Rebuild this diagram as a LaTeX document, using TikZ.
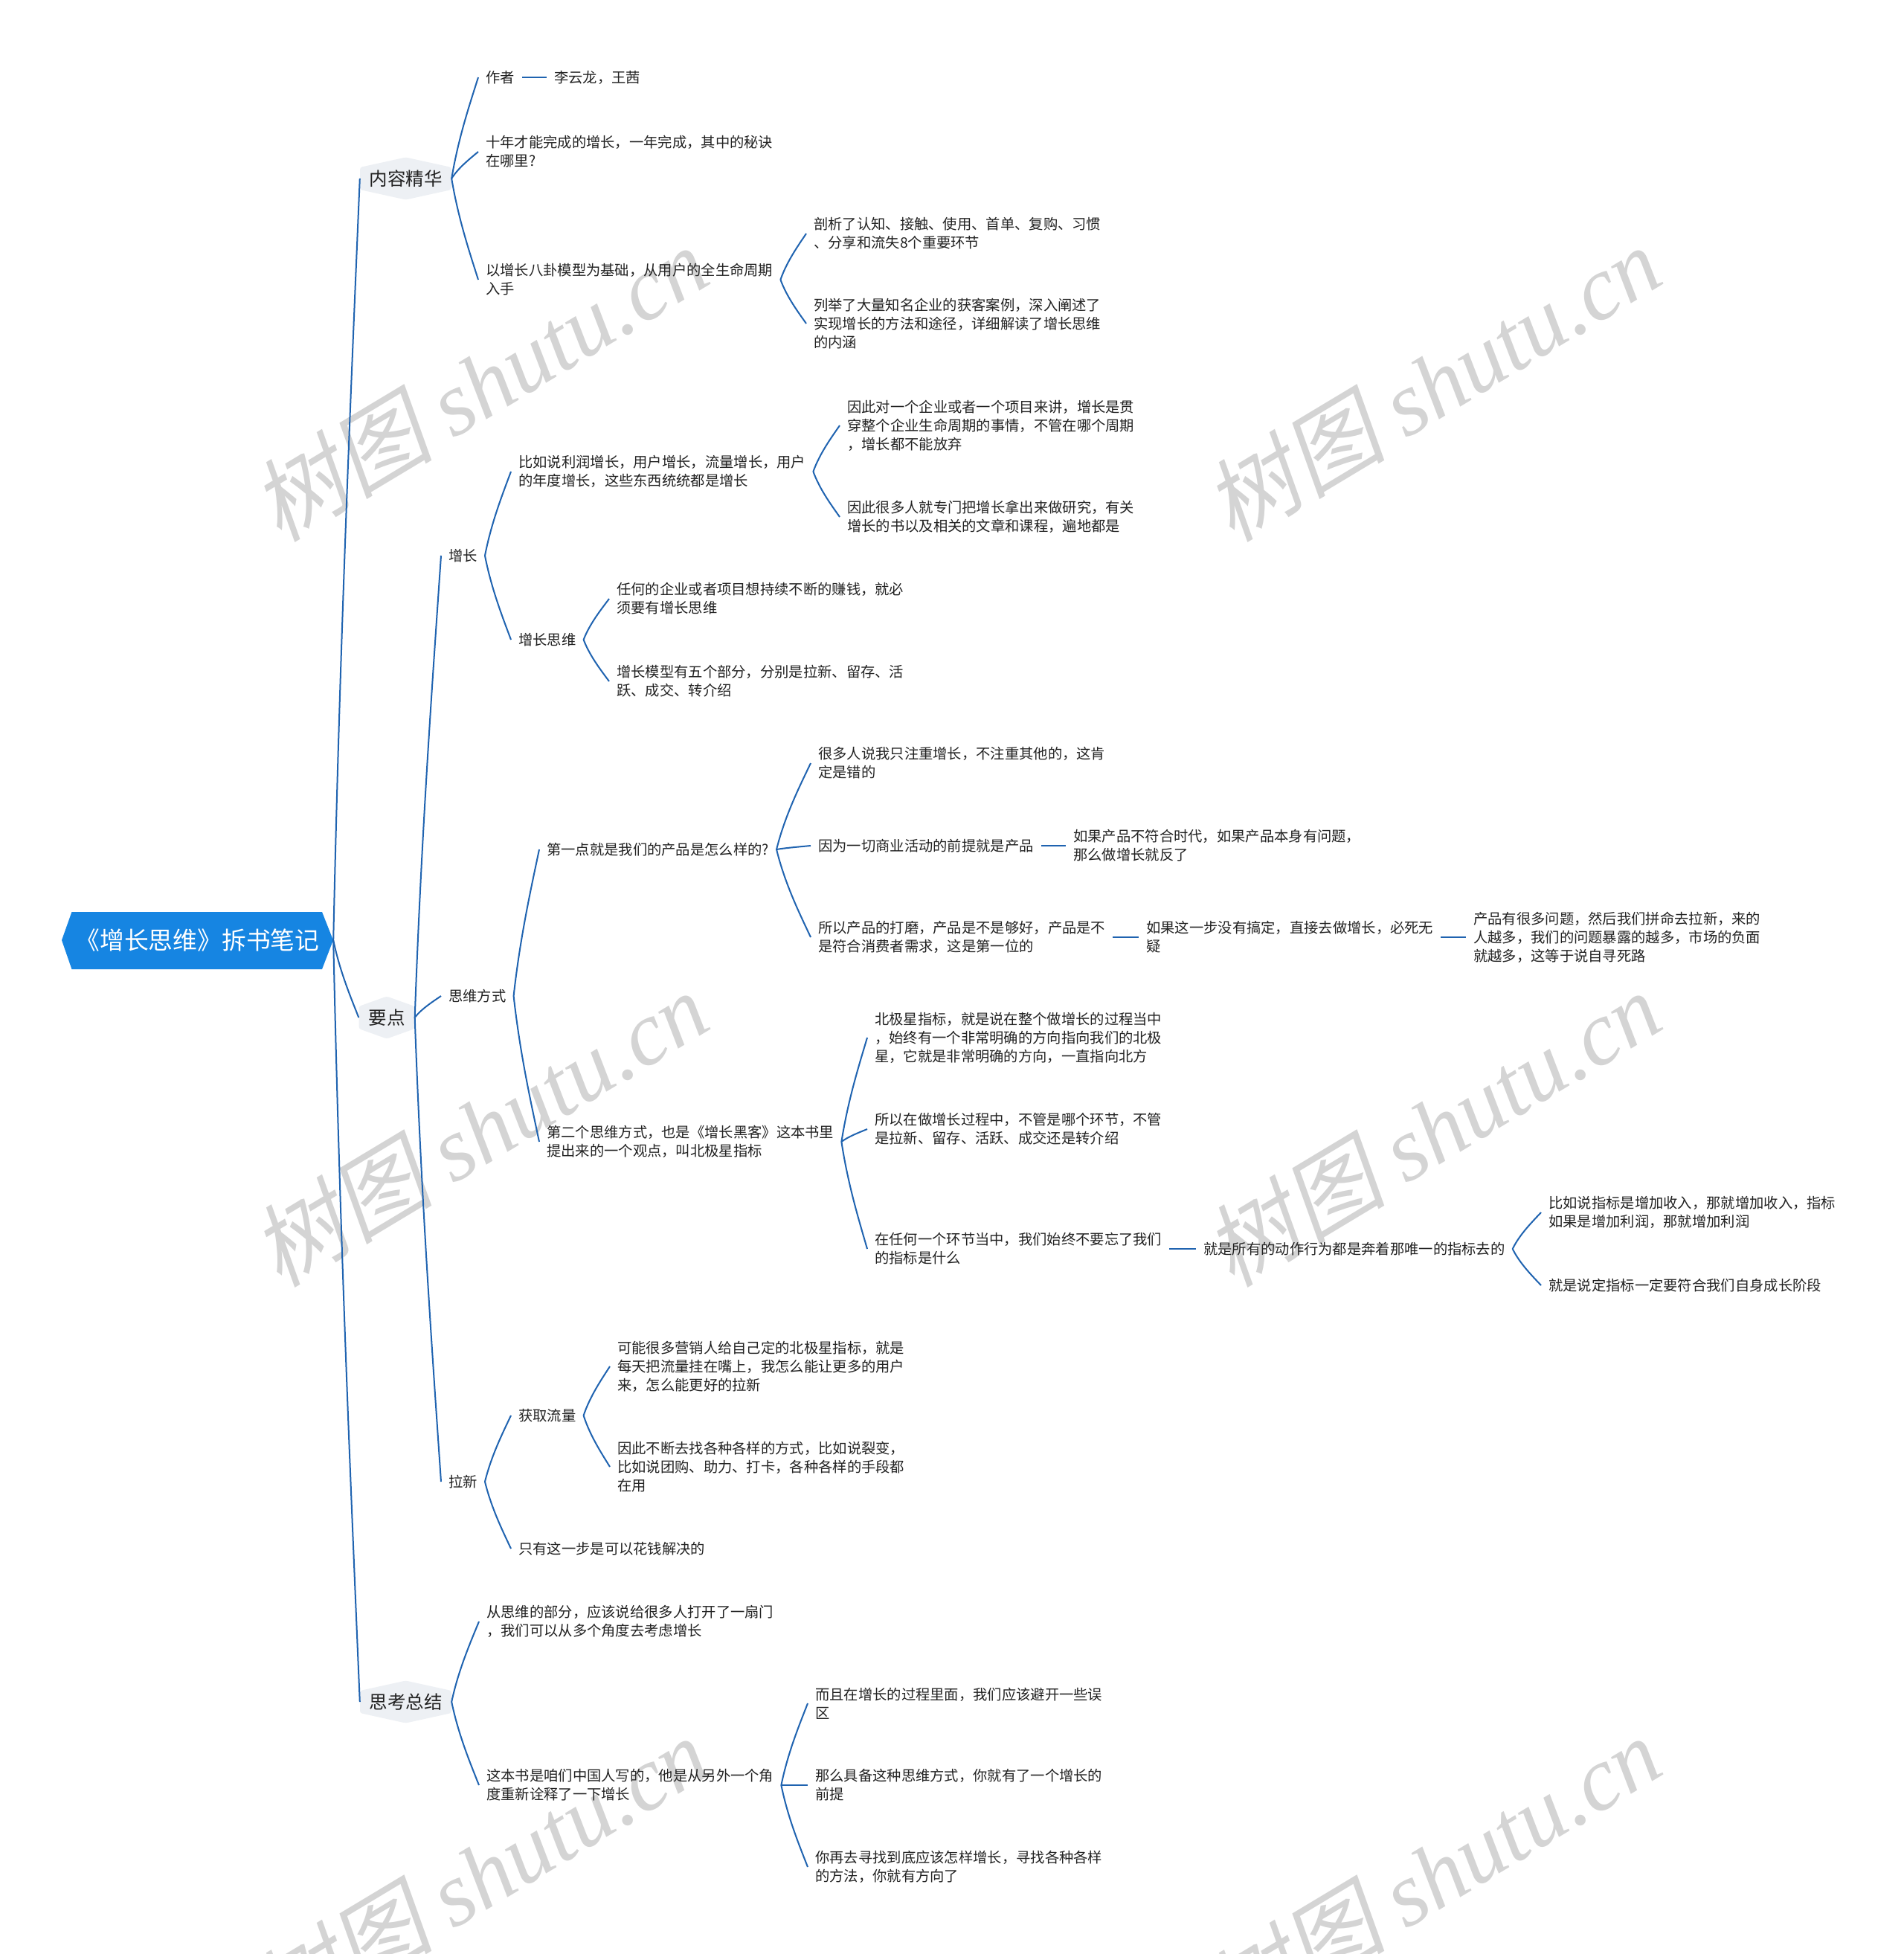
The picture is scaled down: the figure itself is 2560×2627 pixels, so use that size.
\documentclass[tikz,border=0pt]{standalone}
\usepackage{fontspec}
\setmainfont{Noto Sans CJK SC}
\newfontfamily\wmcjk[FakeSlant=0.2]{Noto Sans CJK SC}
\newfontfamily\wmlat{Liberation Serif}
\usetikzlibrary{calc}
\definecolor{linecol}{HTML}{1F63B0}
\definecolor{rootcol}{HTML}{1685E2}
\definecolor{hexcol}{HTML}{EDF0F4}
\definecolor{txtcol}{HTML}{222222}
\definecolor{wmcol}{HTML}{D4D4D4}
\newcommand\mmlink[2]{\draw[conn] let \p1=(#1.east), \p2=(#2.west) in (\p1) .. controls ({\x1+0.25*(\x2-\x1)},{\y1+0.4*(\y2-\y1)}) and ({\x2-0.3*(\x2-\x1)},{\y2-0.25*(\y2-\y1)}) .. (\p2);}
\newcommand\mmline[2]{\draw[conn] (#1.east) -- (#2.west);}
\newcommand\hexnode[5]{%
  \fill[hexcol, rounded corners=3pt] ({#2-#4},{#3-15}) -- ({#2},{#3-28.5}) -- ({#2+#4},{#3-15}) -- ({#2+#4},{#3+15}) -- ({#2},{#3+28.5}) -- ({#2-#4},{#3+15}) -- cycle;
  \node[lvlone, minimum width={2*#4*1pt}] (#1) at (#2,#3) {#5};}
\tikzset{
  txt/.style={font=\fontsize{19.3}{25}\selectfont, text=txtcol, align=left, inner xsep=10pt, inner ysep=3pt, anchor=west},
  lvlone/.style={font=\fontsize{24.5}{30}\selectfont, text=txtcol, inner sep=0pt, minimum height=57pt},
  rootnode/.style={font=\fontsize{32.8}{40}\selectfont, text=white, inner sep=0pt, minimum width=365pt, minimum height=77pt},
  conn/.style={draw=linecol, line width=2pt},
  wm/.style={text=wmcol, font=\fontsize{122}{122}\selectfont, inner sep=0pt, rotate=31},
}
\begin{document}
\begin{tikzpicture}[x=1pt,y=-1pt]
\useasboundingbox (0,0) rectangle (2560,2627);
\fill[white] (0,0) rectangle (2560,2627);
% watermarks
\node[wm] (wm1) at (645,515) {{\wmcjk 树图} {\wmlat\itshape shutu.cn}};
\node[wm] (wm2) at (1926,515) {{\wmcjk 树图} {\wmlat\itshape shutu.cn}};
\node[wm] (wm3) at (645,1517) {{\wmcjk 树图} {\wmlat\itshape shutu.cn}};
\node[wm] (wm4) at (1926,1517) {{\wmcjk 树图} {\wmlat\itshape shutu.cn}};
\node[wm] (wm5) at (645,2519) {{\wmcjk 树图} {\wmlat\itshape shutu.cn}};
\node[wm] (wm6) at (1926,2519) {{\wmcjk 树图} {\wmlat\itshape shutu.cn}};
% root
\fill[rootcol] (83,1264) -- (96.5,1226) -- (433,1226) -- (448,1264) -- (433,1303) -- (96.5,1303) -- cycle;
\node[rootnode] (root) at (265.5,1264) {《增长思维》拆书笔记};
% level one
\hexnode{h1}{545.5}{240}{61.5}{内容精华}
\hexnode{h2}{520}{1368}{37.5}{要点}
\hexnode{h3}{545.5}{2288}{61.5}{思考总结}
% 内容精华
\node[txt] (A) at (643,104) {作者};
\node[txt] (A1) at (735,104) {李云龙，王茜};
\node[txt] (B) at (643,204) {十年才能完成的增长，一年完成，其中的秘诀\\在哪里?};
\node[txt] (C) at (643,376) {以增长八卦模型为基础，从用户的全生命周期\\入手};
\node[txt] (C1) at (1084,314) {剖析了认知、接触、使用、首单、复购、习惯\\、分享和流失8个重要环节};
\node[txt] (C2) at (1084,435) {列举了大量知名企业的获客案例，深入阐述了\\实现增长的方法和途径，详细解读了增长思维\\的内涵};
% 要点
\node[txt] (Z1) at (593,747) {增长};
\node[txt] (Z1a) at (687,634) {比如说利润增长，用户增长，流量增长，用户\\的年度增长，这些东西统统都是增长};
\node[txt] (Z1a1) at (1129,572) {因此对一个企业或者一个项目来讲，增长是贯\\穿整个企业生命周期的事情，不管在哪个周期\\，增长都不能放弃};
\node[txt] (Z1a2) at (1129,695) {因此很多人就专门把增长拿出来做研究，有关\\增长的书以及相关的文章和课程，遍地都是};
\node[txt] (Z1b) at (687,860) {增长思维};
\node[txt] (Z1b1) at (819,805) {任何的企业或者项目想持续不断的赚钱，就必\\须要有增长思维};
\node[txt] (Z1b2) at (819,916) {增长模型有五个部分，分别是拉新、留存、活\\跃、成交、转介绍};
\node[txt] (Z2) at (593,1339) {思维方式};
\node[txt] (Z2a) at (725,1142) {第一点就是我们的产品是怎么样的?};
\node[txt] (Z2a1) at (1090,1026) {很多人说我只注重增长，不注重其他的，这肯\\定是错的};
\node[txt] (Z2a2) at (1090,1137) {因为一切商业活动的前提就是产品};
\node[txt] (Z2a2x) at (1433,1137) {如果产品不符合时代，如果产品本身有问题，\\那么做增长就反了};
\node[txt] (Z2a3) at (1090,1260) {所以产品的打磨，产品是不是够好，产品是不\\是符合消费者需求，这是第一位的};
\node[txt] (Z2a3x) at (1531,1260) {如果这一步没有搞定，直接去做增长，必死无\\疑};
\node[txt] (Z2a3xx) at (1971,1260) {产品有很多问题，然后我们拼命去拉新，来的\\人越多，我们的问题暴露的越多，市场的负面\\就越多，这等于说自寻死路};
\node[txt] (Z2b) at (725,1535) {第二个思维方式，也是《增长黑客》这本书里\\提出来的一个观点，叫北极星指标};
\node[txt] (Z2b1) at (1166,1395) {北极星指标，就是说在整个做增长的过程当中\\，始终有一个非常明确的方向指向我们的北极\\星，它就是非常明确的方向，一直指向北方};
\node[txt] (Z2b2) at (1166,1518) {所以在做增长过程中，不管是哪个环节，不管\\是拉新、留存、活跃、成交还是转介绍};
\node[txt] (Z2b3) at (1166,1679) {在任何一个环节当中，我们始终不要忘了我们\\的指标是什么};
\node[txt] (Z2b3x) at (1608,1679) {就是所有的动作行为都是奔着那唯一的指标去的};
\node[txt] (Z2b3x1) at (2072,1630) {比如说指标是增加收入，那就增加收入，指标\\如果是增加利润，那就增加利润};
\node[txt] (Z2b3x2) at (2072,1728) {就是说定指标一定要符合我们自身成长阶段};
\node[txt] (Z3) at (593,1992) {拉新};
\node[txt] (Z3a) at (687,1903) {获取流量};
\node[txt] (Z3a1) at (820,1837) {可能很多营销人给自己定的北极星指标，就是\\每天把流量挂在嘴上，我怎么能让更多的用户\\来，怎么能更好的拉新};
\node[txt] (Z3a2) at (820,1972) {因此不断去找各种各样的方式，比如说裂变，\\比如说团购、助力、打卡，各种各样的手段都\\在用};
\node[txt] (Z3b) at (687,2082) {只有这一步是可以花钱解决的};
% 思考总结
\node[txt] (S1) at (644,2180) {从思维的部分，应该说给很多人打开了一扇门\\，我们可以从多个角度去考虑增长};
\node[txt] (S2) at (644,2400) {这本书是咱们中国人写的，他是从另外一个角\\度重新诠释了一下增长};
\node[txt] (S2a) at (1086,2290) {而且在增长的过程里面，我们应该避开一些误\\区};
\node[txt] (S2b) at (1086,2400) {那么具备这种思维方式，你就有了一个增长的\\前提};
\node[txt] (S2c) at (1086,2510) {你再去寻找到底应该怎样增长，寻找各种各样\\的方法，你就有方向了};
% connectors
\mmlink{root}{h1}\mmlink{root}{h2}\mmlink{root}{h3}
\mmlink{h1}{A}\mmlink{h1}{B}\mmlink{h1}{C}
\mmline{A}{A1}
\mmlink{C}{C1}\mmlink{C}{C2}
\mmlink{h2}{Z1}\mmlink{h2}{Z2}\mmlink{h2}{Z3}
\mmlink{Z1}{Z1a}\mmlink{Z1}{Z1b}
\mmlink{Z1a}{Z1a1}\mmlink{Z1a}{Z1a2}
\mmlink{Z1b}{Z1b1}\mmlink{Z1b}{Z1b2}
\mmlink{Z2}{Z2a}\mmlink{Z2}{Z2b}
\mmlink{Z2a}{Z2a1}\mmlink{Z2a}{Z2a2}\mmlink{Z2a}{Z2a3}
\mmline{Z2a2}{Z2a2x}\mmline{Z2a3}{Z2a3x}\mmline{Z2a3x}{Z2a3xx}
\mmlink{Z2b}{Z2b1}\mmlink{Z2b}{Z2b2}\mmlink{Z2b}{Z2b3}
\mmline{Z2b3}{Z2b3x}
\mmlink{Z2b3x}{Z2b3x1}\mmlink{Z2b3x}{Z2b3x2}
\mmlink{Z3}{Z3a}\mmlink{Z3}{Z3b}
\mmlink{Z3a}{Z3a1}\mmlink{Z3a}{Z3a2}
\mmlink{h3}{S1}\mmlink{h3}{S2}
\mmlink{S2}{S2a}\mmlink{S2}{S2b}\mmlink{S2}{S2c}
\end{tikzpicture}
\end{document}
